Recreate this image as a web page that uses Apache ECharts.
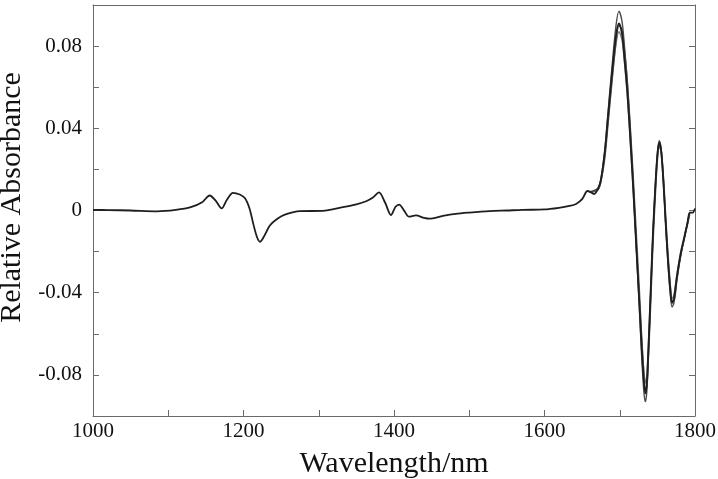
<!DOCTYPE html>
<html>
<head>
<meta charset="utf-8">
<script src="https://cdn.jsdelivr.net/npm/echarts@6.0.0/dist/echarts.min.js"></script>
<style>
html,body{margin:0;padding:0;background:#fff;}
#chart{width:718px;height:479px;}
</style>
</head>
<body>
<div id="chart"></div>
<script>
// Wavelength grid (nm) for the full spectrum
var wavelengths = [1000,1020,1050,1085,1110,1130,1145,1155,1163,1171,1178,1186,1195,1202,1208,1213,1218,1222,1227,1235,1245,1255,1275,1305,1332,1350,1363,1372,1380,1388,1396,1402,1407,1413,1420,1429,1440,1447,1465,1482,1500,1527,1550,1571,1600,1619,1633,1642,1650,1657,1662,1666,1671,1675,1680,1684,1689,1695,1699,1703,1706,1710,1714,1718,1722,1726,1729,1732,1734,1736,1738,1741,1744,1747,1750,1752.5,1755,1758,1761,1764,1767,1769.5,1772,1776,1781,1786,1790,1793,1797,1800];
// Main (mean) spectrum, relative absorbance
var spectrumMain = [0.0003,0.0002,0.0000,-0.0004,0.0003,0.0016,0.0040,0.0073,0.0048,0.0010,0.0052,0.0086,0.0078,0.0060,0.0010,-0.0065,-0.0130,-0.0152,-0.0128,-0.0073,-0.0040,-0.0020,-0.0003,-0.0002,0.0016,0.0030,0.0045,0.0063,0.0088,0.0040,-0.0022,0.0018,0.0029,0.0002,-0.0030,-0.0024,-0.0036,-0.0040,-0.0026,-0.0016,-0.0010,-0.0003,0.0000,0.0003,0.0005,0.0013,0.0022,0.0032,0.0055,0.0095,0.0088,0.0080,0.0105,0.0150,0.028,0.044,0.064,0.085,0.091,0.086,0.075,0.058,0.035,0.010,-0.018,-0.045,-0.066,-0.083,-0.089,-0.084,-0.068,-0.040,-0.012,0.010,0.027,0.033,0.029,0.014,-0.006,-0.024,-0.038,-0.045,-0.043,-0.032,-0.021,-0.013,-0.006,-0.001,-0.001,0.001];
// Wavelength grid for the region where the individual spectra spread apart
var wavelengthsHigh = [1660,1671,1675,1680,1684,1689,1695,1699,1703,1706,1710,1714,1718,1722,1726,1729,1732,1734,1736,1738,1741,1744,1747,1750,1752.5,1755,1758,1761,1764,1767,1769.5,1772,1776,1781,1786,1790,1793];
var spectrumA = [0.0090,0.0108,0.0155,0.029,0.046,0.067,0.090,0.097,0.092,0.081,0.063,0.039,0.012,-0.018,-0.047,-0.070,-0.088,-0.093,-0.088,-0.071,-0.042,-0.013,0.010,0.028,0.034,0.030,0.015,-0.006,-0.025,-0.040,-0.047,-0.045,-0.033,-0.022,-0.013,-0.006,-0.001];
var spectrumB = [0.0088,0.0102,0.0142,0.027,0.042,0.061,0.081,0.087,0.083,0.073,0.056,0.034,0.009,-0.017,-0.043,-0.062,-0.078,-0.084,-0.080,-0.066,-0.039,-0.012,0.009,0.026,0.031,0.028,0.013,-0.006,-0.023,-0.036,-0.043,-0.041,-0.031,-0.020,-0.012,-0.006,-0.001];
var spectrumC = [0.0089,0.0100,0.0140,0.025,0.040,0.060,0.082,0.090,0.088,0.079,0.063,0.041,0.016,-0.011,-0.038,-0.060,-0.079,-0.087,-0.086,-0.073,-0.047,-0.018,0.005,0.024,0.032,0.030,0.017,-0.002,-0.020,-0.035,-0.044,-0.044,-0.034,-0.022,-0.013,-0.007,-0.002];

function pairs(xs, ys){ return xs.map(function(x,i){ return [x, ys[i]]; }); }

var serif = 'Liberation Serif';
var axisColor = '#6a6a6a';
var chart = echarts.init(document.getElementById('chart'));
function line(data, color, width, z){
  return {type:'line', data:data, showSymbol:false, symbol:'none', smooth:0.3,
    lineStyle:{color:color, width:width}, z:z, animation:false};
}
chart.setOption({
  backgroundColor:'#ffffff',
  animation:false,
  grid:{left:93, right:23, top:5, bottom:63, containLabel:false, outerBoundsMode:'none'},
  xAxis:[{
    type:'value', min:1000, max:1800, interval:100, position:'bottom',
    axisLine:{show:true, onZero:false, lineStyle:{color:axisColor, width:1}},
    axisTick:{show:true, inside:true, length:6, lineStyle:{color:axisColor}},
    splitLine:{show:false},
    axisLabel:{color:'#111', fontFamily:serif, fontSize:21, margin:5,
      formatter:function(v){ return (Math.round(v) % 200 === 0) ? String(Math.round(v)) : ''; }},
    name:'Wavelength/nm', nameLocation:'middle', nameGap:33,
    nameTextStyle:{color:'#111', fontFamily:serif, fontSize:30}
  },{
    type:'value', min:1000, max:1800, position:'top',
    axisLine:{show:true, onZero:false, lineStyle:{color:axisColor, width:1}},
    axisTick:{show:false}, axisLabel:{show:false}, splitLine:{show:false}
  }],
  yAxis:[{
    type:'value', min:-0.1, max:0.1, interval:0.02, position:'left',
    axisLine:{show:true, onZero:false, lineStyle:{color:axisColor, width:1}},
    axisTick:{show:true, inside:true, length:6, lineStyle:{color:axisColor}},
    splitLine:{show:false},
    axisLabel:{color:'#111', fontFamily:serif, fontSize:21, margin:11,
      formatter:function(v){
        var n = Math.round(v*100);
        if (Math.abs(n) >= 10 || n % 4 !== 0) return '';
        return n === 0 ? '0' : (n/100).toFixed(2);
      }},
    name:'Relative Absorbance', nameLocation:'middle', nameGap:58,
    nameTextStyle:{color:'#111', fontFamily:serif, fontSize:30, padding:[0,0,0,26]}
  },{
    type:'value', min:-0.1, max:0.1, interval:0.02, position:'right',
    axisLine:{show:true, onZero:false, lineStyle:{color:axisColor, width:1}},
    axisTick:{show:true, inside:true, length:6, lineStyle:{color:axisColor}},
    axisLabel:{show:false}, splitLine:{show:false}
  }],
  series:[
    line(pairs(wavelengthsHigh, spectrumB), '#7a7a7a', 1.4, 1),
    line(pairs(wavelengthsHigh, spectrumC), '#5a5a5a', 1.4, 2),
    line(pairs(wavelengthsHigh, spectrumA), '#4a4a4a', 1.4, 3),
    line(pairs(wavelengths, spectrumMain), '#1e1e1e', 1.8, 4)
  ]
});
</script>
</body>
</html>
